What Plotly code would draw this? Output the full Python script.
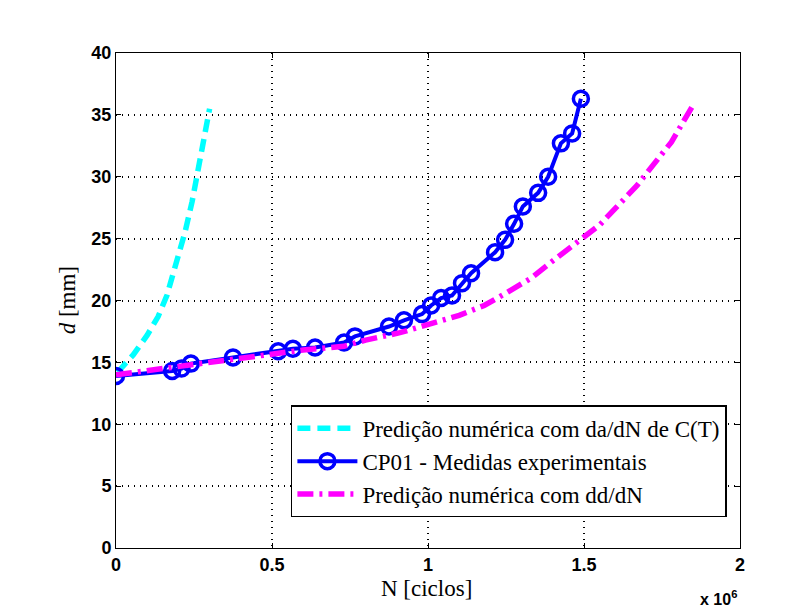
import plotly.graph_objects as go

# Data (N in units of 1e6 cycles, d in mm)
cyan_N = [0.005, 0.055, 0.10, 0.135, 0.163, 0.19, 0.221, 0.244, 0.265, 0.285, 0.30]
cyan_d = [14.2, 15.6, 17.2, 18.7, 20.4, 22.7, 25.5, 28.0, 31.0, 33.8, 35.5]

exp_N = [0, 0.18, 0.21, 0.24, 0.375, 0.52, 0.567, 0.638, 0.731, 0.766, 0.875, 0.923,
         0.981, 1.010, 1.042, 1.077, 1.109, 1.138, 1.215, 1.247, 1.276, 1.304, 1.353,
         1.385, 1.426, 1.462, 1.490]
exp_d = [13.9, 14.3, 14.5, 14.9, 15.4, 15.9, 16.1, 16.2, 16.6, 17.1, 17.9, 18.4,
         18.9, 19.6, 20.2, 20.4, 21.4, 22.2, 23.9, 24.9, 26.2, 27.6, 28.7,
         30.0, 32.7, 33.5, 36.3]

mag_N = [0, 0.2, 0.4, 0.6, 0.73, 0.8, 0.91, 1.0, 1.06, 1.10, 1.18, 1.25, 1.33, 1.40, 1.48,
         1.55, 1.61, 1.67, 1.72, 1.78, 1.85]
mag_d = [14.0, 14.7, 15.4, 16.0, 16.3, 16.8, 17.4, 18.0, 18.5, 18.8, 19.6, 20.6, 21.8, 23.2, 24.7,
         26.1, 27.7, 29.3, 30.9, 32.8, 35.8]

x_ticks = [0, 0.5, 1, 1.5, 2]
x_ticklabels = ["0", "0.5", "1", "1.5", "2"]
y_ticks = [0, 5, 10, 15, 20, 25, 30, 35, 40]

fig = go.Figure()
fig.add_trace(go.Scatter(x=cyan_N, y=cyan_d, mode="lines",
                         name="Predição numérica com da/dN de C(T)",
                         line=dict(color="#00FFFF", width=5.5, dash="13px,7px")))
fig.add_trace(go.Scatter(x=exp_N, y=exp_d, mode="lines+markers",
                         name="CP01 - Medidas experimentais",
                         line=dict(color="#0000FF", width=4),
                         marker=dict(symbol="circle-open", size=15, color="#0000FF",
                                     line=dict(width=3.5, color="#0000FF"))))
fig.add_trace(go.Scatter(x=mag_N, y=mag_d, mode="lines",
                         name="Predição numérica com dd/dN",
                         line=dict(color="#FF00FF", width=5.5, dash="16px,6px,3px,6px")))

axis_common = dict(showline=True, linecolor="black", linewidth=1, mirror="ticks",
                   ticks="inside", ticklen=5, tickcolor="black",
                   showgrid=True, gridcolor="black", griddash="1px,5px", gridwidth=1.5,
                   zeroline=False, automargin=False,
                   tickfont=dict(family="Liberation Sans", size=18, color="black", weight="bold"))

fig.update_layout(
    width=802, height=609,
    paper_bgcolor="white", plot_bgcolor="white",
    margin=dict(l=108, r=70, t=45, b=69, autoexpand=False),
    showlegend=True,
    legend=dict(x=0.979, y=0.062, xanchor="right", yanchor="bottom",
                bgcolor="white", bordercolor="black", borderwidth=1.5,
                font=dict(family="Liberation Serif", size=23, color="black"),
                tracegroupgap=0, itemwidth=60),
    xaxis=dict(range=[0, 2], tickvals=x_ticks, ticktext=x_ticklabels, **axis_common),
    yaxis=dict(range=[0, 40], tickvals=y_ticks, **axis_common),
)
fig.add_annotation(xref="paper", yref="paper", x=0.498, y=-0.081, xanchor="center", yanchor="middle",
                   text="N [ciclos]", showarrow=False,
                   font=dict(family="Liberation Serif", size=23, color="black"))
fig.add_annotation(xref="paper", yref="paper", x=-0.078, y=0.501, xanchor="center", yanchor="middle",
                   text="<i>d</i> [mm]", showarrow=False, textangle=-90,
                   font=dict(family="Liberation Serif", size=23, color="black"))
fig.add_annotation(xref="paper", yref="paper", x=0.965, y=-0.1, xanchor="center", yanchor="middle",
                   text="x 10<sup>6</sup>", showarrow=False,
                   font=dict(family="Liberation Sans", size=16, color="black", weight="bold"))

fig.write_html("out.html")
